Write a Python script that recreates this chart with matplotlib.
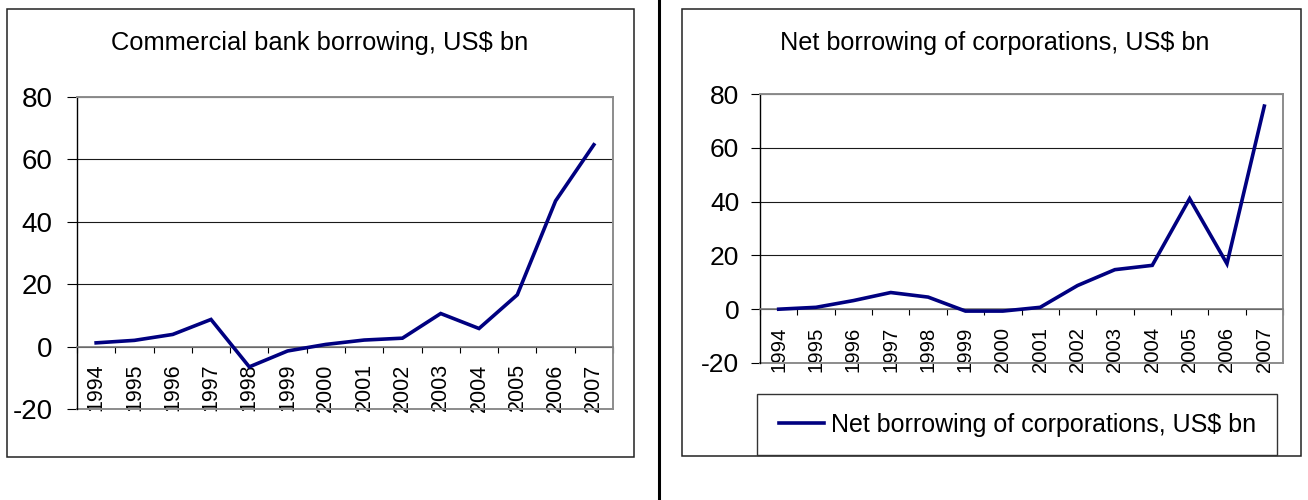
import numpy as np
import matplotlib
matplotlib.use("Agg")
import matplotlib.pyplot as plt
from matplotlib.patches import Rectangle
from matplotlib.lines import Line2D

# data
years = [str(y) for y in range(1994, 2008)]
bank_borrowing = [1.2, 2.0, 3.9, 8.7, -6.5, -1.4, 0.7, 2.1, 2.7, 10.6, 5.8, 16.6, 46.7, 64.7]
corp_borrowing = [0.0, 0.7, 3.2, 6.2, 4.5, -0.7, -0.7, 0.7, 8.8, 14.7, 16.3, 41.1, 16.9, 75.5]
y_ticks = [-20, 0, 20, 40, 60, 80]

W, H = 1308, 500
FONT = ['Liberation Sans', 'DejaVu Sans']
NAVY = '#000080'
GRID = '#1a1a1a'
BORDER = '#8c8c8c'


def px_box(x0, y0, x1, y1):
    # pixel box (top-left origin) -> figure fraction rect
    return [x0 / W, 1 - y1 / H, (x1 - x0) / W, (y1 - y0) / H]


def draw_panel(fig, rect, values, ylab_size, xlab_size, tick_len, lab_pad, x_pad):
    ax = fig.add_axes(px_box(*rect))
    # move the x axis to y=0 first, set_position resets the ticks
    ax.spines['bottom'].set_position(('data', 0))

    x = np.arange(len(values))
    line, = ax.plot(x, values, color=NAVY, lw=2.6, solid_joinstyle='miter', zorder=4)
    ax.set_xlim(-0.5, len(values) - 0.5)
    ax.set_ylim(-20, 80)

    ax.set_yticks(y_ticks)
    ax.set_yticklabels([str(v) for v in y_ticks], fontfamily=FONT, fontsize=ylab_size)
    ax.tick_params(axis='y', direction='out', length=tick_len, width=0.8, color='black', pad=lab_pad)
    ax.yaxis.grid(True, color=GRID, lw=0.8)
    ax.set_axisbelow(True)

    # category boundaries as major ticks, year labels on minor ticks
    ax.set_xticks(np.arange(-0.5, len(values)))
    ax.set_xticklabels([])
    ax.set_xticks(x, minor=True)
    ax.set_xticklabels(years, minor=True, rotation=90, fontfamily=FONT, fontsize=xlab_size,
                       va='top', ha='center')
    ax.tick_params(axis='x', which='major', direction='out', length=4.5, width=0.8, color='black')
    ax.tick_params(axis='x', which='minor', length=0, pad=x_pad)

    ax.spines['bottom'].set_color('#7a7a7a')
    ax.spines['bottom'].set_linewidth(1.2)
    ax.spines['left'].set_color('black')
    ax.spines['left'].set_linewidth(1.0)
    for s in ('top', 'right'):
        ax.spines[s].set_color(BORDER)
        ax.spines[s].set_linewidth(1.4)
    ax.axhline(-20, color=BORDER, lw=1.4, clip_on=False, zorder=2.5)
    return ax, line


fig = plt.figure(figsize=(W / 100, H / 100), dpi=100)

# outer chart boxes and the divider
fig.add_artist(Rectangle((7 / W, 1 - 457 / H), 627 / W, 448 / H, transform=fig.transFigure,
                         fill=False, ec='#222222', lw=1.1))
fig.add_artist(Rectangle((682 / W, 1 - 456 / H), 619 / W, 447 / H, transform=fig.transFigure,
                         fill=False, ec='#222222', lw=1.1))
fig.add_artist(Line2D([659 / W, 659 / W], [0, 1], transform=fig.transFigure, color='black', lw=2.2))

ax1, l1 = draw_panel(fig, (77, 97, 613, 409), bank_borrowing, 20, 15.5, 7.2, 10.5, 12)
ax2, l2 = draw_panel(fig, (760, 94, 1283, 363), corp_borrowing, 19, 14.6, 6.5, 8.5, 12.5)

fig.text(320 / W, 1 - 43 / H, 'Commercial bank borrowing, US$ bn', ha='center', va='center',
         fontfamily=FONT, fontsize=18.4)
fig.text(995 / W, 1 - 43 / H, 'Net borrowing of corporations, US$ bn', ha='center', va='center',
         fontfamily=FONT, fontsize=18.2)

# legend of the right chart
fig.add_artist(Rectangle((757 / W, 1 - 455 / H), 520 / W, 61 / H, transform=fig.transFigure,
                         fill=False, ec='#333333', lw=1.0))
ax2.legend([l2], ['Net borrowing of corporations, US$ bn'], loc='center left',
           bbox_to_anchor=(779 / W, 1 - 425 / H), bbox_transform=fig.transFigure,
           frameon=False, borderpad=0, borderaxespad=0, handlelength=1.8, handletextpad=0.28,
           prop={'family': FONT, 'size': 18})

fig.savefig('out.png', dpi=100)
